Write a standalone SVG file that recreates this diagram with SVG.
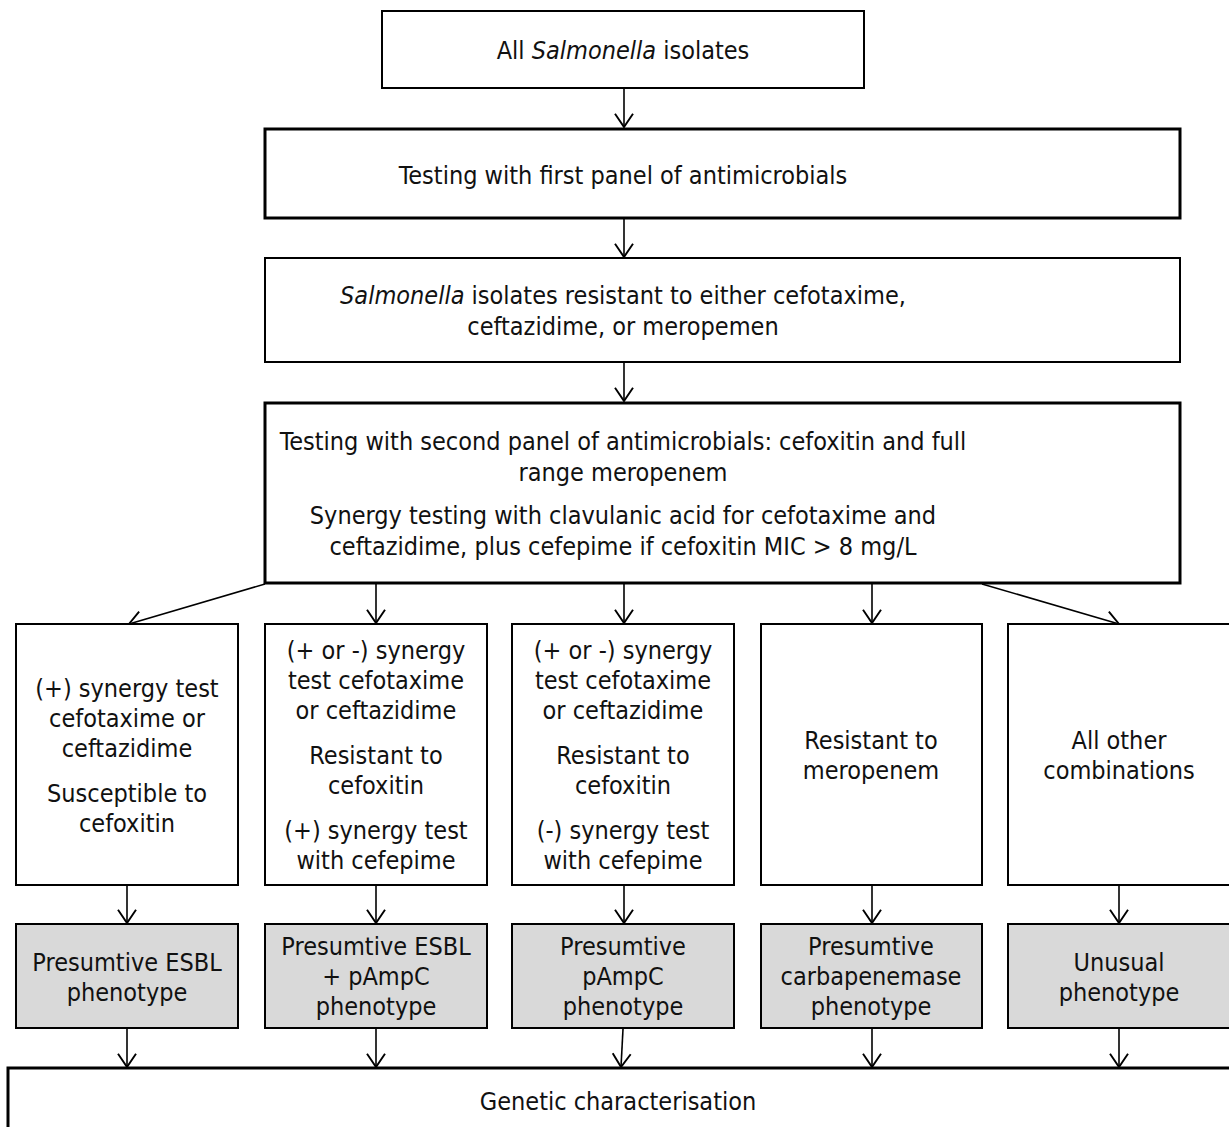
<svg xmlns="http://www.w3.org/2000/svg" width="1229" height="1127" viewBox="0 0 1229 1127">
<defs>
<marker id="ah" markerWidth="24" markerHeight="24" refX="0" refY="0" viewBox="-12 -10 14 20" orient="auto" markerUnits="userSpaceOnUse" overflow="visible">
<path d="M-11,-7.5 L0,0 L-11,7.5" fill="none" stroke="#000" stroke-width="1.6"/>
</marker>
<style>
text{font-family:"DejaVu Sans Condensed","DejaVu Sans",sans-serif;font-size:25px;fill:#111;text-anchor:middle}
.b{fill:#fff;stroke:#000;stroke-width:2}
.bt{fill:#fff;stroke:#000;stroke-width:3}
.g{fill:#d9d9d9;stroke:#000;stroke-width:2}
.c line{stroke:#000;stroke-width:1.6;marker-end:url(#ah)}
</style>
</defs>
<rect width="1229" height="1127" fill="#fff"/>
<g class="c" id="connectors">
<line x1="624" y1="89" x2="624" y2="127"/>
<line x1="624" y1="219" x2="624" y2="257"/>
<line x1="624" y1="363" x2="624" y2="401"/>
<line x1="265" y1="584" x2="129" y2="624"/>
<line x1="376" y1="584" x2="376" y2="623"/>
<line x1="624" y1="584" x2="624" y2="623"/>
<line x1="872" y1="584" x2="872" y2="623"/>
<line x1="982" y1="584" x2="1119" y2="624"/>
<line x1="127" y1="886" x2="127" y2="923"/>
<line x1="376" y1="886" x2="376" y2="923"/>
<line x1="624" y1="886" x2="624" y2="923"/>
<line x1="872" y1="886" x2="872" y2="923"/>
<line x1="1119" y1="886" x2="1119" y2="923"/>
<line x1="127" y1="1029" x2="127" y2="1067"/>
<line x1="376" y1="1029" x2="376" y2="1067"/>
<line x1="623" y1="1029" x2="621" y2="1067"/>
<line x1="872" y1="1029" x2="872" y2="1067"/>
<line x1="1119" y1="1029" x2="1119" y2="1067"/>
</g>
<g id="n1"><rect class="b" x="382" y="11" width="482" height="77"/>
<text x="623" y="59">All <tspan font-style="italic">Salmonella</tspan> isolates</text></g>
<g id="n2"><rect class="bt" x="265" y="129" width="915" height="89"/>
<text x="623" y="184">Testing with first panel of antimicrobials</text></g>
<g id="n3"><rect class="b" x="265" y="258" width="915" height="104"/>
<text x="623" y="304"><tspan font-style="italic">Salmonella</tspan> isolates resistant to either cefotaxime,</text>
<text x="623" y="335">ceftazidime, or meropemen</text></g>
<g id="n4"><rect class="bt" x="265" y="403" width="915" height="180"/>
<text x="623" y="450">Testing with second panel of antimicrobials: cefoxitin and full</text>
<text x="623" y="481">range meropenem</text>
<text x="623" y="524">Synergy testing with clavulanic acid for cefotaxime and</text>
<text x="623" y="555">ceftazidime, plus cefepime if cefoxitin MIC &gt; 8 mg/L</text></g>
<g id="nA"><rect class="b" x="16" y="624" width="222" height="261"/>
<text x="127" y="697">(+) synergy test</text>
<text x="127" y="727">cefotaxime or</text>
<text x="127" y="757">ceftazidime</text>
<text x="127" y="802">Susceptible to</text>
<text x="127" y="832">cefoxitin</text></g>
<g id="nB"><rect class="b" x="265" y="624" width="222" height="261"/>
<text x="376" y="659">(+ or -) synergy</text>
<text x="376" y="689">test cefotaxime</text>
<text x="376" y="719">or ceftazidime</text>
<text x="376" y="764">Resistant to</text>
<text x="376" y="794">cefoxitin</text>
<text x="376" y="839">(+) synergy test</text>
<text x="376" y="869">with cefepime</text></g>
<g id="nC"><rect class="b" x="512" y="624" width="222" height="261"/>
<text x="623" y="659">(+ or -) synergy</text>
<text x="623" y="689">test cefotaxime</text>
<text x="623" y="719">or ceftazidime</text>
<text x="623" y="764">Resistant to</text>
<text x="623" y="794">cefoxitin</text>
<text x="623" y="839">(-) synergy test</text>
<text x="623" y="869">with cefepime</text></g>
<g id="nD"><rect class="b" x="761" y="624" width="221" height="261"/>
<text x="871" y="749">Resistant to</text>
<text x="871" y="779">meropenem</text></g>
<g id="nE"><rect class="b" x="1008" y="624" width="230" height="261"/>
<text x="1119" y="749">All other</text>
<text x="1119" y="779">combinations</text></g>
<g id="gA"><rect class="g" x="16" y="924" width="222" height="104"/>
<text x="127" y="971">Presumtive ESBL</text>
<text x="127" y="1001">phenotype</text></g>
<g id="gB"><rect class="g" x="265" y="924" width="222" height="104"/>
<text x="376" y="955">Presumtive ESBL</text>
<text x="376" y="985">+ pAmpC</text>
<text x="376" y="1015">phenotype</text></g>
<g id="gC"><rect class="g" x="512" y="924" width="222" height="104"/>
<text x="623" y="955">Presumtive</text>
<text x="623" y="985">pAmpC</text>
<text x="623" y="1015">phenotype</text></g>
<g id="gD"><rect class="g" x="761" y="924" width="221" height="104"/>
<text x="871" y="955">Presumtive</text>
<text x="871" y="985">carbapenemase</text>
<text x="871" y="1015">phenotype</text></g>
<g id="gE"><rect class="g" x="1008" y="924" width="230" height="104"/>
<text x="1119" y="971">Unusual</text>
<text x="1119" y="1001">phenotype</text></g>
<g id="gen"><rect class="bt" x="8" y="1068" width="1240" height="80"/>
<text x="618" y="1110">Genetic characterisation</text></g>
</svg>
